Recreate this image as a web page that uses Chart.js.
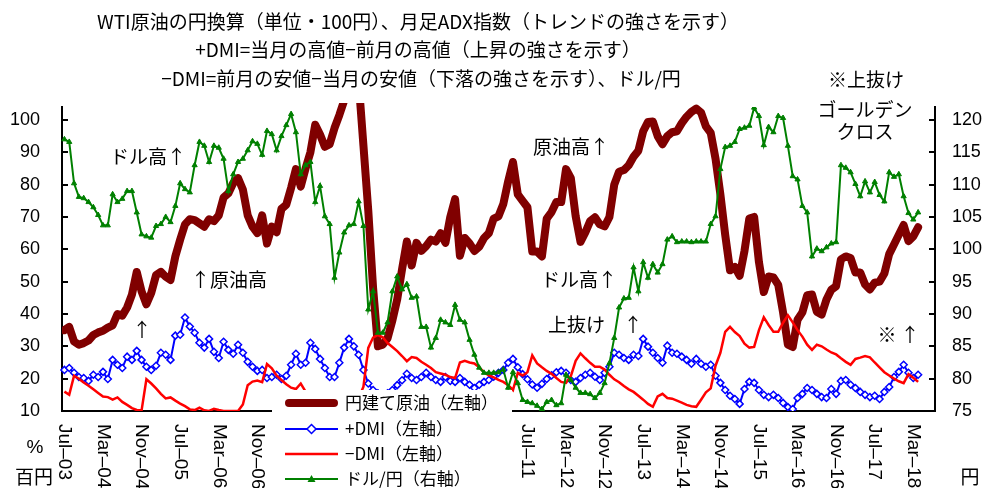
<!DOCTYPE html>
<html lang="ja">
<head>
<meta charset="UTF-8">
<title>WTI原油の円換算とADX指数</title>
<script src="https://cdn.jsdelivr.net/npm/chart.js"></script>
<style>
  body { margin: 0; background: #fff; }
  #wrap { width: 984px; height: 488px; }
</style>
</head>
<body>
<div id="wrap"><canvas id="myChart" width="984" height="488"></canvas></div>
<script>
// 月次カテゴリ（Jul-03 〜 Jul-18）
const months = [
  'Jul-03','Aug-03','Sep-03','Oct-03','Nov-03','Dec-03',
  'Jan-04','Feb-04','Mar-04','Apr-04','May-04','Jun-04','Jul-04','Aug-04','Sep-04','Oct-04','Nov-04','Dec-04',
  'Jan-05','Feb-05','Mar-05','Apr-05','May-05','Jun-05','Jul-05','Aug-05','Sep-05','Oct-05','Nov-05','Dec-05',
  'Jan-06','Feb-06','Mar-06','Apr-06','May-06','Jun-06','Jul-06','Aug-06','Sep-06','Oct-06','Nov-06','Dec-06',
  'Jan-07','Feb-07','Mar-07','Apr-07','May-07','Jun-07','Jul-07','Aug-07','Sep-07','Oct-07','Nov-07','Dec-07',
  'Jan-08','Feb-08','Mar-08','Apr-08','May-08','Jun-08','Jul-08','Aug-08','Sep-08','Oct-08','Nov-08','Dec-08',
  'Jan-09','Feb-09','Mar-09','Apr-09','May-09','Jun-09','Jul-09','Aug-09','Sep-09','Oct-09','Nov-09','Dec-09',
  'Jan-10','Feb-10','Mar-10','Apr-10','May-10','Jun-10','Jul-10','Aug-10','Sep-10','Oct-10','Nov-10','Dec-10',
  'Jan-11','Feb-11','Mar-11','Apr-11','May-11','Jun-11','Jul-11','Aug-11','Sep-11','Oct-11','Nov-11','Dec-11',
  'Jan-12','Feb-12','Mar-12','Apr-12','May-12','Jun-12','Jul-12','Aug-12','Sep-12','Oct-12','Nov-12','Dec-12',
  'Jan-13','Feb-13','Mar-13','Apr-13','May-13','Jun-13','Jul-13','Aug-13','Sep-13','Oct-13','Nov-13','Dec-13',
  'Jan-14','Feb-14','Mar-14','Apr-14','May-14','Jun-14','Jul-14','Aug-14','Sep-14','Oct-14','Nov-14','Dec-14',
  'Jan-15','Feb-15','Mar-15','Apr-15','May-15','Jun-15','Jul-15','Aug-15','Sep-15','Oct-15','Nov-15','Dec-15',
  'Jan-16','Feb-16','Mar-16','Apr-16','May-16','Jun-16','Jul-16','Aug-16','Sep-16','Oct-16','Nov-16','Dec-16',
  'Jan-17','Feb-17','Mar-17','Apr-17','May-17','Jun-17','Jul-17','Aug-17','Sep-17','Oct-17','Nov-17','Dec-17',
  'Jan-18','Feb-18','Mar-18','Apr-18','May-18','Jun-18','Jul-18'
];

// 目盛ラベル（8か月ごと）
const tickLabels = ['Jul-03','Mar-04','Nov-04','Jul-05','Mar-06','Nov-06','Jul-07','Mar-08','Nov-08',
  'Jul-09','Mar-10','Nov-10','Jul-11','Mar-12','Nov-12','Jul-13','Mar-14','Nov-14','Jul-15','Mar-16',
  'Nov-16','Jul-17','Mar-18'];

// 円建て原油（百円、左軸）
const oilYen = [
  35, 36, 31.5, 30.5, 31, 31.8, 33.5, 34.3, 34.8, 35.8, 36.5, 40, 39.5, 42, 46, 53, 47, 43, 46.5, 52,
  53, 51.5, 50.5, 57.8, 63, 67.7, 69.3, 69, 68, 67, 69.3, 68.7, 70.5, 76, 77.3, 80.5, 82, 78.5, 70.5, 67,
  65, 70.5, 61.8, 67, 65.3, 72.5, 73.8, 79, 84.8, 79.4, 85, 90, 98.5, 95.5, 91.7, 92.5, 97.5, 101.5, 106, 125,
  130, 112, 92, 72, 48, 30, 30.5, 32.5, 38, 44.5, 53.8, 62.4, 55, 62, 59.5, 61, 63, 62.4, 65, 62,
  70, 75.5, 58, 63.5, 61.8, 59.5, 60.8, 63.5, 65, 69.5, 70.2, 74, 81, 87, 77, 75, 73, 59.3, 59.3, 57.8,
  69.5, 71.5, 74.6, 74.6, 84.8, 82, 70.2, 62.3, 65.2, 68.7, 69.9, 67.7, 67.1, 70, 80, 84, 84.5, 86, 88.6, 90.5,
  96.5, 99.4, 99.5, 95, 92.5, 95, 96.2, 96.5, 99, 101, 102.5, 103.5, 102.3, 98, 96, 88, 77, 64.5, 53.5, 54.5,
  51.8, 59.5, 69.5, 70, 56, 46.8, 51.6, 51.3, 49, 40.5, 30.5, 29.8, 38.2, 40.5, 45.8, 46, 40.7, 39.8, 44.5, 47.5,
  48.6, 56.9, 57.8, 57.3, 52.8, 52.8, 49.1, 47.6, 49.7, 50, 52.5, 58.5, 61.5, 64.5, 67.5, 62.5, 64, 66.8
];

// +DMI（左軸）
const plusDmi = [
  22.7, 23.3, 21.8, 20.5, 20.2, 19.3, 21.2, 20.5, 22.1, 19.9, 25.8, 24.3, 23.3, 26.8, 25.8, 28.6, 25.8, 23.7, 22.7, 24.0,
  28.0, 27.4, 25.8, 33.3, 33.6, 38.9, 36.1, 34.2, 31.1, 29.6, 32.3, 28.3, 26.4, 31.4, 28.9, 27.7, 30.5, 28.0, 25.2, 23.7,
  22.4, 22.7, 20.2, 20.5, 21.2, 19.9, 20.9, 24.3, 27.7, 24.3, 24.9, 31.1, 29.2, 26.1, 23.3, 20.5, 20.5, 24.9, 29.6, 32.3,
  30.0, 27.4, 22.7, 18.5, 16.5, 15.5, 15, 15.5, 16.5, 18, 19.5, 21.5, 20.2, 19.6, 20.5, 21.8, 20.5, 19.6, 19.0, 20.5,
  19.3, 19.0, 20.2, 19.0, 18.1, 17.1, 18.1, 19.0, 19.6, 20.6, 21.8, 22.7, 24.9, 26.1, 23.5, 21.4, 19.8, 18.2, 17.2, 18.4,
  19.9, 21.0, 22.0, 22.4, 21.8, 19.6, 19.0, 20.2, 21.2, 21.8, 20.6, 19.6, 21.8, 23.7, 28.0, 27.4, 26.4, 25.8, 27.4, 27.0,
  32.3, 29.9, 28.0, 26.4, 24.9, 30.2, 28.0, 27.7, 26.8, 25.8, 24.6, 26.1, 24.6, 23.7, 24.3, 20.9, 18.7, 16.5, 14.7, 13.7,
  12.2, 16.8, 19.0, 18.7, 16.5, 15.0, 14.3, 15.0, 14.0, 12.5, 11.2, 10.6, 14.0, 15.3, 17.1, 16.5, 15.3, 14.3, 14.0, 16.8,
  15.3, 19.3, 19.6, 18.1, 17.1, 15.9, 15.0, 14.3, 14.7, 13.7, 15.9, 17.4, 20.5, 22.1, 24.3, 21.8, 20.2, 21.2
];

// -DMI（左軸）
const minusDmi = [
  16, 15, 20.9, 20, 18.8, 17.8, 16.7, 15.6, 14.5, 14.3, 13.5, 14.2, 12.8, 11.9, 10.9, 10.3, 10.2, 19.8, 18.5, 17.0,
  15.3, 13.9, 14.2, 13.2, 12.3, 11.5, 10.5, 10.3, 11.0, 10.2, 10, 10.7, 10.3, 10, 10, 10, 10, 12, 18, 19.1,
  19.4, 18.9, 24.5, 23.2, 20.9, 19.6, 18.3, 17.2, 16.8, 18.5, 16, 14.5, 13.5, 13, 14, 13, 12, 11, 10.5, 10,
  12, 14, 17.5, 29.5, 32.7, 33.5, 32.8, 31, 29.8, 28.5, 27.0, 25.4, 26.7, 26.4, 25.2, 24.3, 23.3, 22.0, 21.6, 21.2,
  20.5, 20.2, 25.0, 25.5, 25.0, 24.7, 23.5, 22.0, 21.0, 20.4, 19.6, 19.0, 18.0, 16.5, 21.8, 21.0, 22.0, 27.2, 24.7, 23.5,
  22.4, 21.5, 20.2, 19.0, 18.7, 20.8, 25.5, 27.8, 26.3, 24.9, 23.7, 23.7, 22.8, 21.2, 19.8, 18.9, 17.7, 16.7, 15.9, 14.7,
  13.5, 12.2, 11.3, 14.5, 15.3, 14.0, 13.8, 13.2, 12.6, 11.9, 11.5, 11.3, 13.5, 15.8, 17, 24, 28, 34.5, 36, 34.4,
  33.2, 30.8, 29.6, 29.8, 35, 39, 36.6, 34.5, 34.5, 37.3, 39.6, 37.4, 35, 33, 30.5, 28.9, 30.5, 30, 29, 28.1,
  27.5, 26.3, 25.2, 24.3, 26.1, 26.5, 27, 26.6, 25, 23.5, 22, 21, 20, 19.2, 18.6, 21.4, 20.3, 19
];

// ドル/円（右軸）
const usdJpy = [
  117.0, 116.6, 110.2, 108.1, 107.9, 107.3, 106.5, 105.3, 103.7, 103.7, 108.5, 107.3, 107.8, 109.0, 109.0, 105.7, 102.3, 102.0, 101.8, 103.6,
  103.9, 105.0, 104.2, 106.7, 110.2, 109.3, 108.8, 113.0, 116.6, 116.0, 113.5, 116.0, 115.7, 114.0, 109.0, 111.6, 113.5, 114.0, 115.3, 116.7,
  116.3, 114.6, 118.3, 117.8, 115.3, 117.5, 119.2, 120.9, 118.1, 111.6, 113.0, 113.5, 107.3, 109.8, 105.1, 103.9, 95.6, 99.5, 102.6, 103.7,
  103.9, 107.4, 103.6, 90.7, 93.5, 87.1, 87.1, 88.7, 93.5, 95.8, 93.8, 94.6, 92.5, 92.7, 88.0, 88.0, 84.8, 86.3, 89.1, 88.7,
  88.3, 91.4, 89.1, 88.7, 86.0, 83.7, 81.7, 80.9, 80.9, 80.9, 81.0, 81.4, 78.6, 81.0, 79.3, 76.7, 76.4, 76.2, 75.8, 75.3,
  76.4, 76.7, 75.9, 76.2, 80.6, 79.8, 78.6, 77.8, 77.8, 77.6, 77.0, 77.8, 79.3, 82.4, 86.3, 91.0, 92.4, 92.5, 97.2, 93.5,
  98.0, 95.6, 97.7, 96.4, 97.7, 101.5, 102.0, 101.1, 101.2, 101.2, 101.1, 101.2, 101.2, 101.2, 103.9, 105.1, 112.4, 115.8, 116.0, 116.6,
  118.6, 118.8, 119.1, 121.9, 120.6, 116.1, 118.9, 118.1, 120.6, 120.3, 116.0, 111.3, 110.8, 106.7, 105.7, 98.9, 100.1, 99.7, 100.3, 100.9,
  101.1, 113.0, 112.6, 111.9, 110.1, 108.2, 110.5, 108.8, 110.4, 108.4, 107.4, 111.9, 111.2, 111.6, 108.2, 105.6, 104.6, 105.7
];

const seriesNames = ['円建て原油（左軸）', '+DMI（左軸）', '−DMI（左軸）', 'ドル/円（右軸）'];
const titleLines = [
  'WTI原油の円換算（単位・100円）、月足ADX指数（トレンドの強さを示す）',
  '+DMI=当月の高値−前月の高値（上昇の強さを示す）',
  '−DMI=前月の安値−当月の安値（下落の強さを示す）、ドル/円'
];

const JP = '"Noto Sans CJK JP", "Noto Sans", sans-serif';
const NUM = '"Liberation Sans", Arial, sans-serif';

// 図の装飾（内向き目盛、縦書き日付、タイトル、注記、凡例）
const decor = {
  id: 'decor',
  afterDraw(chart) {
    const ctx = chart.ctx;
    const area = chart.chartArea;
    const xs = chart.scales.x, yl = chart.scales.y, yr = chart.scales.y1;
    ctx.save();

    // 内向きの目盛線
    ctx.strokeStyle = '#000';
    ctx.lineWidth = 2;
    yl.ticks.forEach(t => {
      const py = Math.round(yl.getPixelForValue(t.value));
      ctx.beginPath(); ctx.moveTo(area.left, py); ctx.lineTo(area.left + 6, py); ctx.stroke();
    });
    yr.ticks.forEach(t => {
      const py = Math.round(yr.getPixelForValue(t.value));
      ctx.beginPath(); ctx.moveTo(area.right - 6, py); ctx.lineTo(area.right, py); ctx.stroke();
    });

    // 日付ラベル（上から下へ読む縦書き）
    ctx.fillStyle = '#000';
    ctx.font = '19px ' + NUM;
    ctx.textAlign = 'left';
    ctx.textBaseline = 'middle';
    tickLabels.forEach(lb => {
      const px = xs.getPixelForValue(months.indexOf(lb));
      ctx.save();
      ctx.translate(px, area.bottom + 13);
      ctx.rotate(Math.PI / 2);
      ctx.fillText(lb.replace('-', '–'), 0, 0);
      ctx.restore();
    });

    // タイトル
    ctx.textAlign = 'center';
    ctx.font = '19px ' + JP;
    ctx.fillText(titleLines[0], 418, 22);
    ctx.fillText(titleLines[1], 418, 50);
    ctx.fillText(titleLines[2], 421, 79);

    // 注記
    const notes = [
      ['ドル高↑', 148, 157], ['↑原油高', 229, 280], ['↑', 142, 330],
      ['原油高↑', 571, 147], ['ドル高↑', 579, 280], ['↑', 633, 325],
      ['※上抜け', 866, 80], ['ゴールデン', 865, 110], ['クロス', 865, 132],
      ['※', 887, 335], ['↑', 910, 335], ['百円', 34, 477], ['円', 970, 477]
    ];
    notes.forEach(n => ctx.fillText(n[0], n[1], n[2]));
    ctx.textAlign = 'left';
    ctx.fillText('上抜け', 548, 325);
    ctx.textAlign = 'center';
    ctx.font = '19px ' + NUM;
    ctx.fillText('%', 35, 448);

    // 凡例（白地でグラフに重ねる）
    ctx.fillStyle = '#fff';
    ctx.fillRect(272, 390, 240, 98);
    const rows = [403, 429, 454, 479];
    const x0 = 285, x1 = 338, xm = (x0 + x1) / 2;
    ctx.lineCap = 'round';
    // 原油
    ctx.strokeStyle = '#800000'; ctx.lineWidth = 8;
    ctx.beginPath(); ctx.moveTo(x0 + 4, rows[0]); ctx.lineTo(x1 - 4, rows[0]); ctx.stroke();
    ctx.lineCap = 'butt';
    // +DMI
    ctx.strokeStyle = '#0000ff'; ctx.lineWidth = 2;
    ctx.beginPath(); ctx.moveTo(x0, rows[1]); ctx.lineTo(x1, rows[1]); ctx.stroke();
    ctx.fillStyle = '#fff';
    ctx.beginPath();
    ctx.moveTo(xm, rows[1] - 4.5); ctx.lineTo(xm + 4.5, rows[1]); ctx.lineTo(xm, rows[1] + 4.5); ctx.lineTo(xm - 4.5, rows[1]);
    ctx.closePath(); ctx.fill(); ctx.lineWidth = 1.5; ctx.stroke();
    // -DMI
    ctx.strokeStyle = '#ff0000'; ctx.lineWidth = 2.5;
    ctx.beginPath(); ctx.moveTo(x0, rows[2]); ctx.lineTo(x1, rows[2]); ctx.stroke();
    // ドル/円
    ctx.strokeStyle = '#008000'; ctx.lineWidth = 2;
    ctx.beginPath(); ctx.moveTo(x0, rows[3]); ctx.lineTo(x1, rows[3]); ctx.stroke();
    ctx.fillStyle = '#008000';
    ctx.beginPath();
    ctx.moveTo(xm, rows[3] - 4); ctx.lineTo(xm + 4, rows[3] + 3); ctx.lineTo(xm - 4, rows[3] + 3);
    ctx.closePath(); ctx.fill();

    ctx.fillStyle = '#000';
    ctx.font = '17px ' + JP;
    ctx.textAlign = 'left';
    ctx.textBaseline = 'middle';
    seriesNames.forEach((s, i) => ctx.fillText(s, 345, rows[i]));

    ctx.restore();
  }
};

const ctx = document.getElementById('myChart').getContext('2d');
new Chart(ctx, {
  type: 'line',
  data: {
    labels: months,
    datasets: [
      {
        label: seriesNames[0],
        data: oilYen,
        yAxisID: 'y',
        borderColor: '#800000',
        borderWidth: 8,
        borderJoinStyle: 'round',
        borderCapStyle: 'round',
        pointRadius: 0,
        clip: { left: 0, top: 4, right: 0, bottom: 0 },
        order: 4
      },
      {
        label: seriesNames[1],
        data: plusDmi,
        yAxisID: 'y',
        borderColor: '#0000ff',
        borderWidth: 2,
        pointStyle: 'rectRot',
        pointRadius: 3.5,
        pointBorderWidth: 1.5,
        pointBackgroundColor: '#ffffff',
        pointBorderColor: '#0000ff',
        order: 3
      },
      {
        label: seriesNames[2],
        data: minusDmi,
        yAxisID: 'y',
        borderColor: '#ff0000',
        borderWidth: 2.5,
        pointRadius: 0,
        order: 2
      },
      {
        label: seriesNames[3],
        data: usdJpy,
        yAxisID: 'y1',
        borderColor: '#008000',
        borderWidth: 2,
        pointStyle: 'triangle',
        pointRadius: 3,
        pointBackgroundColor: '#008000',
        pointBorderColor: '#008000',
        pointBorderWidth: 1,
        order: 1
      }
    ]
  },
  options: {
    responsive: false,
    animation: false,
    devicePixelRatio: 1,
    layout: { padding: { top: 107, left: 0, right: 0, bottom: 0 } },
    plugins: {
      legend: { display: false },
      title: { display: false },
      tooltip: { enabled: false }
    },
    scales: {
      x: {
        type: 'category',
        offset: true,
        grid: { display: false, drawTicks: false },
        border: { display: true, color: '#000', width: 2 },
        ticks: { display: false },
        afterFit(scale) { scale.height = 77; }
      },
      y: {
        position: 'left',
        min: 10,
        max: 104,
        grid: { display: false, drawTicks: false },
        border: { display: true, color: '#000', width: 2 },
        ticks: {
          stepSize: 10,
          includeBounds: false,
          padding: 22,
          color: '#000',
          font: { family: NUM, size: 18 }
        },
        afterFit(scale) { scale.width = 62; }
      },
      y1: {
        position: 'right',
        min: 75,
        max: 122,
        grid: { display: false, drawTicks: false },
        border: { display: true, color: '#000', width: 2 },
        ticks: {
          stepSize: 5,
          includeBounds: false,
          padding: 17,
          color: '#000',
          font: { family: NUM, size: 18 }
        },
        afterFit(scale) { scale.width = 49; }
      }
    }
  },
  plugins: [decor]
});
</script>
</body>
</html>
